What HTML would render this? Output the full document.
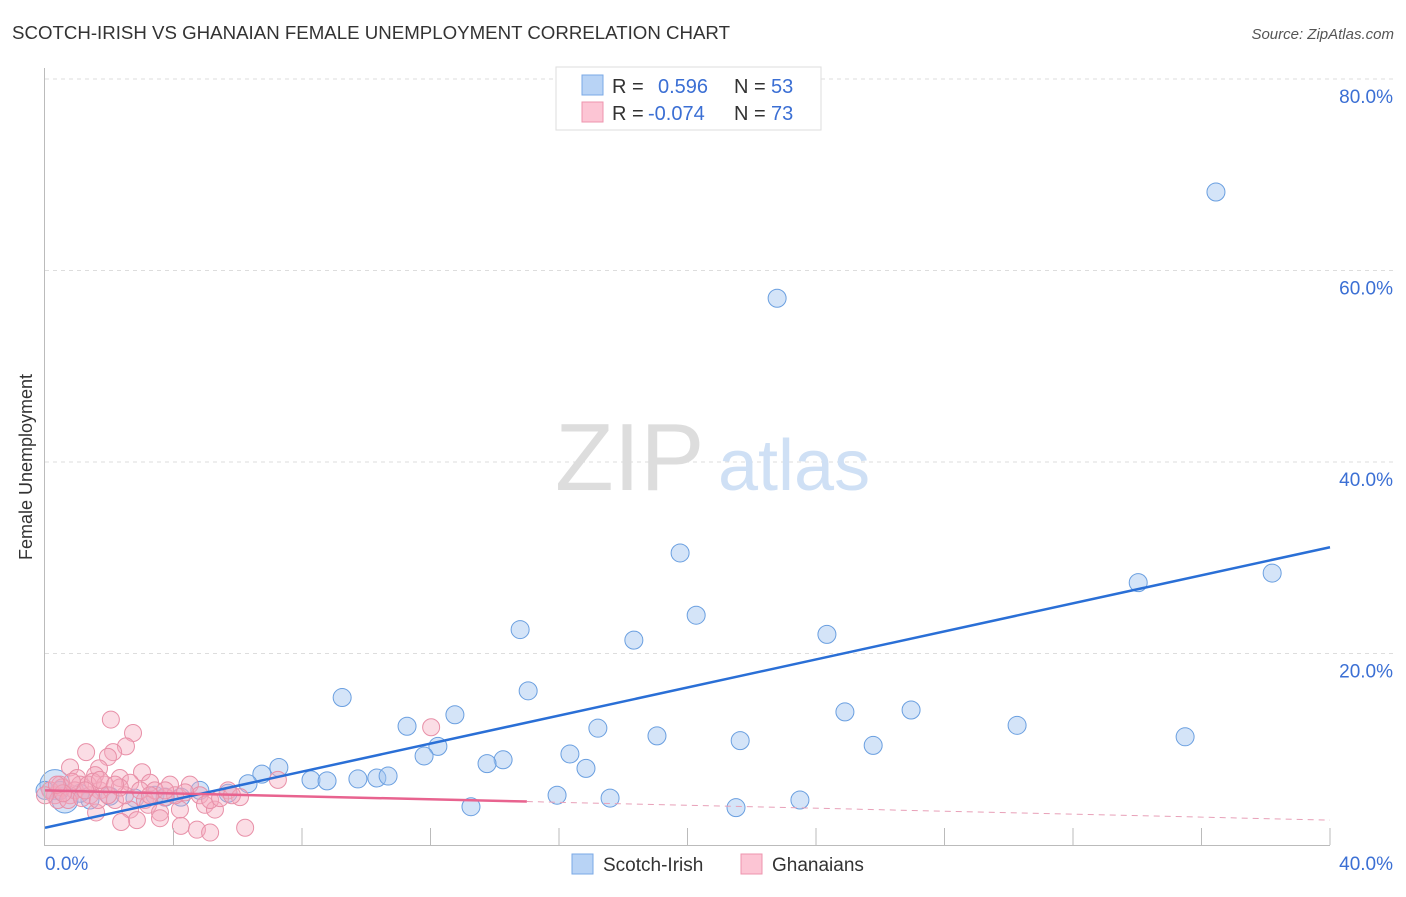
<!DOCTYPE html>
<html><head><meta charset="utf-8"><style>
body{margin:0;background:#fff;font-family:"Liberation Sans",sans-serif;}
svg text{font-family:"Liberation Sans",sans-serif;}
</style></head><body>
<svg width="1406" height="892" xmlns="http://www.w3.org/2000/svg">
<text x="12" y="39" font-size="18" fill="#333" textLength="718" lengthAdjust="spacingAndGlyphs">SCOTCH-IRISH VS GHANAIAN FEMALE UNEMPLOYMENT CORRELATION CHART</text>
<text x="1394" y="39" font-size="15" fill="#555" font-style="italic" text-anchor="end">Source: ZipAtlas.com</text>
<g id="grid"></g>
<text x="555" y="490" font-size="96" fill="#ddd" font-family="Liberation Serif">ZIP</text>
<text x="718" y="490" font-size="72" fill="#cfe0f5">atlas</text>
<g id="pts"></g>
<g id="lines"></g>
<g id="axes"></g>
<text x="20" y="455" font-size="18" fill="#333" transform="rotate(-90 32 455)" text-anchor="middle">Female Unemployment</text>
<g>
<rect x="556" y="67" width="265" height="63" fill="#fff" stroke="#ddd"/>
<rect x="582" y="75" width="21" height="20" fill="#b8d3f5" stroke="#7aa8e6"/>
<rect x="582" y="102" width="21" height="20" fill="#fcc5d4" stroke="#ee94ae"/>
<text x="612" y="93" font-size="20" fill="#333">R = </text><text x="658" y="93" font-size="20" fill="#3b6fd4">0.596</text>
<text x="734" y="93" font-size="20" fill="#333">N = </text><text x="771" y="93" font-size="20" fill="#3b6fd4">53</text>
<text x="612" y="120" font-size="20" fill="#333">R = </text><text x="648" y="120" font-size="20" fill="#3b6fd4">-0.074</text>
<text x="734" y="120" font-size="20" fill="#333">N = </text><text x="771" y="120" font-size="20" fill="#3b6fd4">73</text>
</g>
<g>
<rect x="572" y="854" width="21" height="20" fill="#b8d3f5" stroke="#7aa8e6"/>
<text x="603" y="871" font-size="19" fill="#333">Scotch-Irish</text>
<rect x="741" y="854" width="21" height="20" fill="#fcc5d4" stroke="#ee94ae"/>
<text x="772" y="871" font-size="19" fill="#333">Ghanaians</text>
</g>
</svg>
<script>
const yTicks=[20,40,60,80];
const yTickLabels=["20.0%","40.0%","60.0%","80.0%"];
const xTicks=[4,8,12,16,20,24,28,32,36,40];
const blueX=[36.45,22.79,19.77,38.2,34.03,20.27,14.79,18.33,24.34,15.04,9.25,11.27,12.76,17.21,26.96,24.9,30.26,35.49,19.05,21.64,25.78,12.23,11.8,16.34,14.26,13.76,16.84,7.28,6.75,8.28,8.78,9.74,10.33,10.68,6.32,4.82,4.23,5.7,15.94,17.59,23.5,21.51,13.26,0.31,0.62,1.4,2.02,2.8,3.42,3.74,0,1.09,0.47];
const blueY=[68.2,57.1,30.5,28.4,27.4,24.0,22.5,21.4,22.0,16.1,15.4,12.4,13.6,12.2,14.1,13.9,12.5,11.3,11.4,10.9,10.4,10.3,9.3,9.5,8.9,8.5,8.0,8.1,7.4,6.8,6.7,6.9,7.0,7.2,6.4,5.7,5.0,5.4,5.2,4.9,4.7,3.9,4.0,6.3,4.7,4.7,5.1,4.9,5.2,5.0,5.7,5.4,5.7];
const pinkX=[2.05,2.74,2.52,1.28,2.12,1.96,0.78,1.68,1.0,2.33,3.02,1.56,0.47,1.09,1.71,2.65,3.27,3.89,4.51,5.7,0.31,0.78,1.4,2.18,3.11,3.74,4.82,6.07,3.21,3.58,4.2,1.59,2.65,2.86,2.37,3.58,4.23,4.73,5.14,6.23,4.98,5.29,7.25,12.02,0.16,0.53,0.93,1.34,1.87,0.4,0,0.72,1.15,1.65,2.49,2.96,3.42,4.05,4.36,5.14,5.45,5.82,3.74,3.27,2.33,1.96,1.49,0.84,0.56,0.37,1.25,1.71,2.18];
const pinkY=[13.1,11.7,10.3,9.7,9.7,9.2,8.1,8.0,7.0,7.0,7.6,7.3,6.3,6.3,5.7,6.5,6.5,6.3,6.3,5.7,5.2,5.2,5.2,4.7,4.7,5.0,5.2,5.0,4.2,3.4,3.7,3.4,3.7,2.6,2.4,2.8,2.0,1.6,1.3,1.8,4.2,3.7,6.8,12.3,5.7,6.0,5.7,6.3,6.3,4.7,5.2,4.7,4.9,4.7,5.2,5.7,5.7,5.2,5.5,4.7,4.9,5.2,5.7,5.2,6.0,5.2,6.6,6.6,5.4,6.3,5.7,6.8,6.3];
const blueTrend=[1.8,31.1];
const pinkTrend=[5.7,2.6];
const pinkSolidEnd=15;
const NS="http://www.w3.org/2000/svg";
const sx=v=>45+v*1285/40, sy=v=>845-v*191.5/20;
function mk(tag,at,parent){const e=document.createElementNS(NS,tag);for(const k in at)e.setAttribute(k,at[k]);parent.appendChild(e);return e;}
const grid=document.getElementById('grid'),axes=document.getElementById('axes'),pts=document.getElementById('pts'),lines=document.getElementById('lines');
yTicks.forEach((t,i)=>{
 const l=mk('line',{x1:45,x2:1393,y1:sy(t),y2:sy(t),stroke:'#ddd','stroke-dasharray':'4,4'},grid);
 
 
 const tx=mk('text',{x:1393,y:sy(t)+24,'font-size':19,fill:'#3b6fd4','text-anchor':'end'},axes);
 tx.textContent=yTickLabels[i];
 
 
});
mk('line',{x1:44.5,x2:44.5,y1:68,y2:845,stroke:'#bbb'},axes);
mk('line',{x1:44,x2:1330,y1:845.5,y2:845.5,stroke:'#bbb'},axes);
xTicks.forEach(t=>{const l=mk('line',{x1:sx(t),x2:sx(t),y1:828,y2:845,stroke:'#bbb'},axes);
 
 });
let a=mk('text',{x:45,y:870,'font-size':19,fill:'#3b6fd4'},axes);a.textContent='0.0%';


a=mk('text',{x:1393,y:870,'font-size':19,fill:'#3b6fd4','text-anchor':'end'},axes);a.textContent='40.0%';


blueX.forEach((x,i)=>{const r=(i===43)?15:(i===44?13:9);const c=mk('circle',{cx:sx(x),cy:sy(blueY[i]),r:r,fill:'rgba(160,196,240,0.45)',stroke:'#6a9fe0','stroke-width':1},pts);
 
 });
pinkX.forEach((x,i)=>{const c=mk('circle',{cx:sx(x),cy:sy(pinkY[i]),r:8.5,fill:'rgba(245,170,190,0.4)',stroke:'#e890a8','stroke-width':1},pts);
 
 });
let b=mk('line',{x1:sx(0),y1:sy(blueTrend[0]),x2:sx(40),y2:sy(blueTrend[1]),stroke:'#2a6fd6','stroke-width':2.5},lines);


const pm=pinkTrend[0]+(pinkTrend[1]-pinkTrend[0])*pinkSolidEnd/40;
b=mk('line',{x1:sx(0),y1:sy(pinkTrend[0]),x2:sx(pinkSolidEnd),y2:sy(pm),stroke:'#e8638f','stroke-width':2.5},lines);


b=mk('line',{x1:sx(pinkSolidEnd),y1:sy(pm),x2:sx(40),y2:sy(pinkTrend[1]),stroke:'#e8a0b8','stroke-width':1,'stroke-dasharray':'6,5'},lines);


</script>
</body></html>
